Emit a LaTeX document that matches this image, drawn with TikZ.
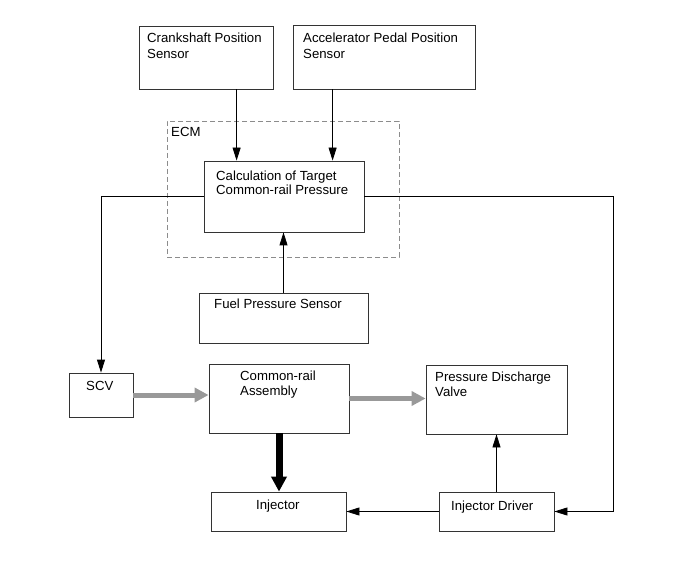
\documentclass[tikz,border=0pt]{standalone}
\usepackage{fontspec}
\setmainfont{Liberation Sans}
\usetikzlibrary{arrows.meta}
\begin{document}
\begin{tikzpicture}[x=1pt,y=-1pt,
  box/.style={draw=black!80,line width=0.8pt,rectangle,inner sep=0pt},
  ecmbox/.style={draw=black!45,line width=0.8pt,dash pattern=on 5pt off 3pt,rectangle,inner sep=0pt},
  txt/.style={anchor=north west,inner sep=0pt,align=left,font=\fontsize{13.2}{15.5}\selectfont},
  tighttxt/.style={txt,font=\fontsize{13.2}{13.8}\selectfont},
  arr/.style={draw=black,line width=0.8pt,-{Triangle[length=13pt,width=8pt]}},
  grayarr/.style={draw=black!40,line width=5pt,-{Triangle[length=14pt,width=14pt]}},
  bigarr/.style={draw=black,line width=7pt,-{Triangle[length=15pt,width=15pt]}}]
\useasboundingbox (0,0) rectangle (691,564);
% boxes
\node[box,minimum width=134pt,minimum height=63pt] (crank) at (206,57.5) {};
\node[box,minimum width=182pt,minimum height=64pt] (accel) at (384,57) {};
\node[ecmbox,minimum width=232pt,minimum height=136pt] (ecm) at (283,189) {};
\node[box,fill=white,minimum width=160pt,minimum height=71pt] (calc) at (284,196.5) {};
\node[box,minimum width=169pt,minimum height=50pt] (fuel) at (283.5,318) {};
\node[box,minimum width=64pt,minimum height=44pt] (scv) at (101,395) {};
\node[box,minimum width=140pt,minimum height=69pt] (cr) at (279,398.5) {};
\node[box,minimum width=141pt,minimum height=69pt] (pdv) at (496.5,399.5) {};
\node[box,minimum width=115pt,minimum height=39pt] (drv) at (496.5,511.5) {};
\node[box,minimum width=135pt,minimum height=39pt] (inj) at (278.5,511.5) {};
% texts
\node[txt] (crank-t) at (147,33) {Crankshaft Position\\Sensor};
\node[txt] (accel-t) at (303,33) {Accelerator Pedal Position\\Sensor};
\node[txt] (ecm-t) at (171,127) {ECM};
\node[tighttxt] (calc-t) at (216,170.5) {Calculation of Target\\Common-rail Pressure};
\node[txt] (fuel-t) at (214,298.5) {Fuel Pressure Sensor};
\node[txt] (scv-t) at (86,381.5) {SCV};
\node[txt] (cr-t) at (240,370.5) {Common-rail\\Assembly};
\node[txt] (pdv-t) at (435,371.5) {Pressure Discharge\\Valve};
\node[txt] (drv-t) at (451,500.5) {Injector Driver};
\node[txt] (inj-t) at (256,499.5) {Injector};
% connectors
\draw[arr] (crank.south west) ++(98,0) coordinate (a1) -- (a1 |- calc.north);
\draw[arr] (accel.south west) ++(40,0) coordinate (a2) -- (a2 |- calc.north);
\draw[arr] (calc.west) -| (scv.north);
\draw[arr] (calc.east) -- ++(249,0) coordinate (rc) |- (drv.east);
\draw[arr] (fuel.north) -- (fuel.north |- calc.south);
\draw[grayarr] (scv.east) -- (scv.east -| cr.west);
\draw[grayarr] (cr.east) -- (cr.east -| pdv.west);
\draw[bigarr] (cr.south) -- (cr.south |- inj.north);
\draw[arr] (drv.west) -- (drv.west -| inj.east);
\draw[arr] (drv.north) -- (pdv.south);
\end{tikzpicture}
\end{document}
